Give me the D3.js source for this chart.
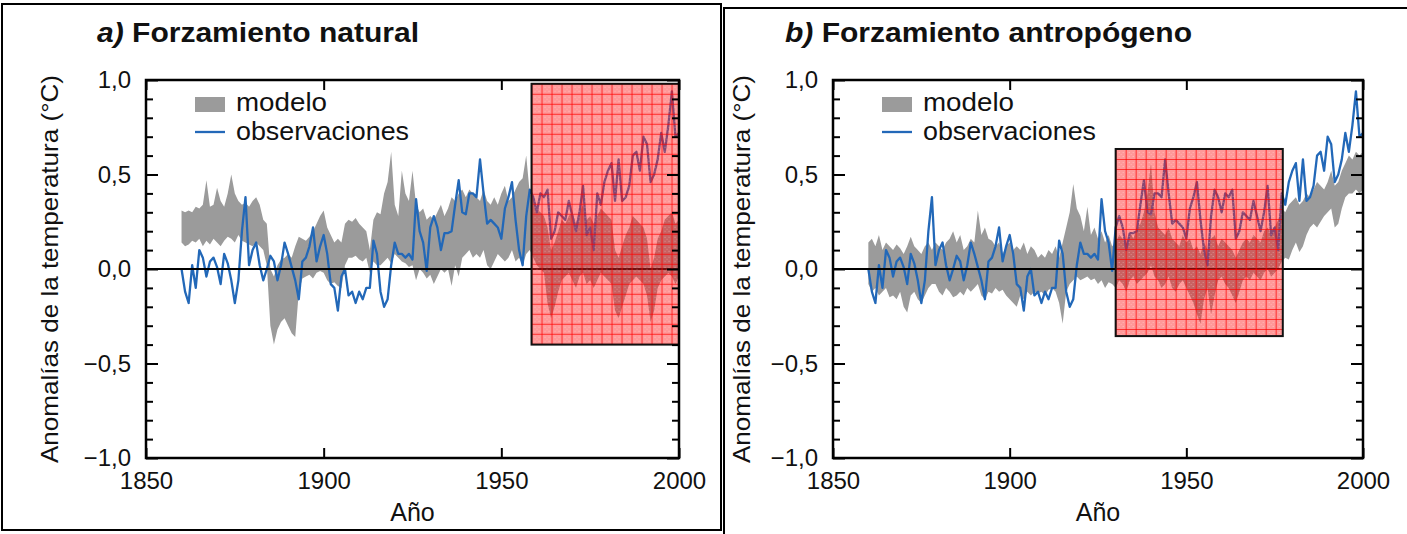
<!DOCTYPE html>
<html>
<head>
<meta charset="utf-8">
<script src="https://cdn.jsdelivr.net/npm/d3@7/dist/d3.min.js"></script>
<style>
  html, body { margin: 0; padding: 0; background: #fff; }
  svg { display: block; font-family: "Liberation Sans", Arial, Helvetica, sans-serif; }
</style>
</head>
<body>
<svg id="chart" width="1407" height="534"></svg>
<script>
// ---------------- DATA ----------------
const startYear = 1860;
const xTickValues = [1850, 1900, 1950, 2000];
const yTickValues = [-1.0, -0.5, 0.0, 0.5, 1.0];
const legendLabels = ["modelo", "observaciones"];
const panelTitles = [["a)", " Forzamiento natural"], ["b)", " Forzamiento antropógeno"]];
const yAxisTitle = "Anomalías de la temperatura (°C)";
const xAxisTitle = "Año";

// Observed global mean temperature anomaly, 1860-2000 (°C)
const observations = [
  0.00,-0.12,-0.18, 0.02,-0.10, 0.10, 0.06,-0.04, 0.04, 0.06,   // 1860-1869
  0.01,-0.08, 0.08, 0.03,-0.06,-0.18,-0.06, 0.20, 0.38, 0.02,   // 1870-1879
  0.10, 0.14, 0.02,-0.06, 0.00, 0.07, 0.04,-0.06, 0.02, 0.14,   // 1880-1889
  0.08, 0.01,-0.06,-0.16, 0.04, 0.06, 0.12, 0.22, 0.04, 0.12,   // 1890-1899
  0.18, 0.08,-0.08,-0.10,-0.22,-0.04, 0.00,-0.14,-0.12,-0.18,   // 1900-1909
 -0.12,-0.16,-0.10,-0.10, 0.15, 0.08,-0.12,-0.20,-0.16, 0.02,   // 1910-1919
  0.14, 0.08, 0.08, 0.06, 0.08, 0.05, 0.37, 0.20, 0.14,-0.01,   // 1920-1929
  0.22, 0.28, 0.22, 0.10, 0.19, 0.19, 0.20, 0.34, 0.47, 0.30,   // 1930-1939
  0.29, 0.40, 0.40, 0.38, 0.58, 0.40, 0.24, 0.26, 0.24, 0.22,   // 1940-1949
  0.16, 0.32, 0.38, 0.46, 0.26, 0.10, 0.02, 0.28, 0.42, 0.38,   // 1950-1959
  0.30, 0.40, 0.38, 0.42, 0.16, 0.20, 0.30, 0.28, 0.26, 0.36,   // 1960-1969
  0.28, 0.20, 0.30, 0.44, 0.18, 0.22, 0.10, 0.40, 0.34, 0.46,   // 1970-1979
  0.52, 0.56, 0.36, 0.58, 0.36, 0.38, 0.44, 0.60, 0.62, 0.52,   // 1980-1989
  0.70, 0.66, 0.46, 0.50, 0.58, 0.72, 0.62, 0.76, 0.94, 0.70,   // 1990-1999
  0.72                                                          // 2000
];

// Model range, natural forcing (upper / lower), 1860-2000
const naturalUpper = [
  0.31, 0.30, 0.31, 0.30, 0.33, 0.32, 0.34, 0.47, 0.33, 0.34,
  0.43, 0.36, 0.33, 0.40, 0.50, 0.40, 0.36, 0.34, 0.35, 0.33,
  0.36, 0.38, 0.34, 0.26, 0.24, 0.00,-0.04, 0.02, 0.05, 0.06,
  0.08, 0.06, 0.12, 0.17, 0.16, 0.15, 0.17, 0.20, 0.24, 0.28,
  0.31, 0.22, 0.18, 0.14, 0.16, 0.14, 0.24, 0.26, 0.25, 0.27,
  0.24, 0.22, 0.20, 0.10, 0.26, 0.30, 0.29, 0.40, 0.46, 0.62,
  0.34, 0.28, 0.52, 0.40, 0.36, 0.52, 0.34, 0.30, 0.32, 0.26,
  0.28, 0.26, 0.30, 0.34, 0.28, 0.32, 0.38, 0.36, 0.40, 0.42,
  0.38, 0.42, 0.40, 0.38, 0.36, 0.42, 0.36, 0.34, 0.38, 0.34,
  0.40, 0.44, 0.36, 0.38, 0.42, 0.46, 0.48, 0.60, 0.40, 0.38,
  0.32, 0.30, 0.28, 0.22, 0.10, 0.14, 0.20, 0.26, 0.24, 0.28,
  0.30, 0.24, 0.30, 0.34, 0.26, 0.28, 0.24, 0.28, 0.32, 0.30,
  0.28, 0.26, 0.10, 0.06, 0.12, 0.18, 0.22, 0.28, 0.26, 0.24,
  0.22, 0.16, 0.00, 0.06, 0.16, 0.20, 0.26, 0.28, 0.30, 0.24,
  0.26
];
const naturalLower = [
  0.14, 0.12, 0.13, 0.15, 0.14, 0.16, 0.12, 0.15, 0.13, 0.16,
  0.14, 0.12, 0.15, 0.17, 0.16, 0.14, 0.18, 0.15, 0.14, 0.13,
  0.12, 0.14, 0.12, 0.10, 0.02,-0.30,-0.40,-0.32,-0.28,-0.26,
 -0.30,-0.34,-0.36,-0.12,-0.05,-0.04,-0.03,-0.05,-0.02,-0.01,
 -0.02,-0.06,-0.08,-0.07,-0.09,-0.10, 0.02, 0.06, 0.06, 0.07,
  0.05, 0.04, 0.06,-0.02, 0.04, 0.02, 0.02, 0.04, 0.06, 0.03,
  0.08, 0.06, 0.04, 0.03, 0.01, 0.02,-0.06, 0.00,-0.02,-0.05,
 -0.03,-0.08,-0.04, 0.00,-0.02, 0.00,-0.09, 0.02,-0.04, 0.06,
  0.08, 0.10, 0.06, 0.08, 0.06, 0.10, 0.02, 0.00, 0.04, 0.08,
  0.06, 0.04, 0.06, 0.10, 0.04, 0.06, 0.02, 0.08, 0.10, 0.06,
  0.02, 0.00,-0.02,-0.18,-0.26,-0.20,-0.12,-0.06,-0.04,-0.02,
 -0.06,-0.10,-0.04,-0.02,-0.08,-0.06,-0.10,-0.06,-0.02,-0.04,
 -0.06,-0.08,-0.22,-0.26,-0.20,-0.14,-0.08,-0.06,-0.04,-0.06,
 -0.08,-0.14,-0.28,-0.22,-0.10,-0.06,-0.04,-0.02,-0.04,-0.08,
 -0.04
];

// Model range, anthropogenic forcing (upper / lower), 1860-2000
const anthroUpper = [
  0.14, 0.16, 0.12, 0.18, 0.10, 0.14, 0.12, 0.10, 0.13, 0.11,
  0.08, 0.12, 0.17, 0.12, 0.10, 0.08, 0.12, 0.14, 0.10, 0.14,
  0.12, 0.10, 0.14, 0.16, 0.20, 0.14, 0.18, 0.10, 0.12, 0.16,
  0.14, 0.31, 0.18, 0.22, 0.16, 0.15, 0.12, 0.14, 0.08, 0.12,
  0.14, 0.10, 0.12, 0.10, 0.14, 0.08, 0.12, 0.10, 0.06, 0.08,
  0.06, 0.10, 0.08, 0.12, 0.06, 0.14, 0.22, 0.30, 0.45, 0.32,
  0.28, 0.20, 0.33, 0.18, 0.22, 0.16, 0.20, 0.14, 0.18, 0.12,
  0.14, 0.18, 0.16, 0.12, 0.20, 0.16, 0.22, 0.24, 0.30, 0.40,
  0.56, 0.30, 0.22, 0.20, 0.18, 0.22, 0.16, 0.14, 0.12, 0.18,
  0.14, 0.16, 0.10, 0.12, 0.08, 0.14, 0.10, 0.16, 0.18, 0.12,
  0.16, 0.14, 0.12, 0.10, 0.06, 0.10, 0.14, 0.16, 0.14, 0.18,
  0.16, 0.14, 0.20, 0.22, 0.18, 0.22, 0.26, 0.32, 0.30, 0.34,
  0.36, 0.38, 0.34, 0.36, 0.40, 0.38, 0.42, 0.46, 0.44, 0.42,
  0.46, 0.52, 0.44, 0.46, 0.52, 0.56, 0.60, 0.58, 0.62, 0.60,
  0.62
];
const anthroLower = [
 -0.08,-0.12,-0.10,-0.14,-0.12,-0.10,-0.15,-0.14,-0.16,-0.12,
 -0.20,-0.23,-0.14,-0.12,-0.16,-0.18,-0.14,-0.10,-0.08,-0.08,
 -0.12,-0.14,-0.10,-0.12,-0.15,-0.14,-0.12,-0.14,-0.10,-0.12,
 -0.10,-0.08,-0.14,-0.16,-0.12,-0.13,-0.10,-0.12,-0.11,-0.14,
 -0.16,-0.18,-0.20,-0.14,-0.16,-0.12,-0.14,-0.12,-0.13,-0.12,
 -0.14,-0.11,-0.10,-0.12,-0.18,-0.29,-0.12,-0.08,-0.06,-0.04,
 -0.06,-0.05,-0.04,-0.06,-0.05,-0.08,-0.06,-0.10,-0.07,-0.08,
 -0.10,-0.06,-0.08,-0.12,-0.06,-0.04,-0.08,-0.06,-0.04,-0.02,
  0.02,-0.04,-0.06,-0.10,-0.08,-0.04,-0.10,-0.12,-0.08,-0.06,
 -0.10,-0.14,-0.18,-0.24,-0.29,-0.16,-0.10,-0.24,-0.14,-0.06,
 -0.04,-0.08,-0.10,-0.14,-0.18,-0.12,-0.06,-0.04,-0.06,-0.02,
 -0.04,-0.06,-0.02, 0.00,-0.04,-0.02, 0.00, 0.04, 0.06, 0.05,
  0.10, 0.14, 0.09, 0.12, 0.18, 0.22, 0.24, 0.22, 0.25, 0.28,
  0.30, 0.32, 0.22, 0.24, 0.32, 0.38, 0.40, 0.40, 0.42, 0.40,
  0.42
];

// Highlighted periods (red boxes): [startYear, endYear, bottom, top]
const highlightA = [1958.5, 2000, -0.40, 0.98];
const highlightB = [1930, 1977.3, -0.355, 0.635];

// ---------------- DRAWING ----------------
const svg = d3.select("#chart");
const defs = svg.append("defs");

const GREY = "#9b9b9b";
const BLUE = "#2368b8";

defs.append("filter").attr("id", "soft")
  .attr("x", "-5%").attr("y", "-5%").attr("width", "110%").attr("height", "110%")
  .append("feGaussianBlur").attr("stdDeviation", 0.6);

// Outer frames
svg.append("rect").attr("x", 2).attr("y", 4).attr("width", 719).attr("height", 526)
  .attr("fill", "none").attr("stroke", "#000").attr("stroke-width", 2);
svg.append("path").attr("d", "M724,534V8H1407")
  .attr("fill", "none").attr("stroke", "#000").attr("stroke-width", 2);

const years = d3.range(startYear, 2001);

function drawPanel(cfg) {
  const x = d3.scaleLinear().domain([1850, 2000]).range([cfg.x0, cfg.x1]);
  const y = d3.scaleLinear().domain([-1, 1]).range([458, 80]);
  const g = svg.append("g");

  // title
  const t = g.append("text").attr("x", cfg.titleX).attr("y", 42)
    .attr("font-size", 27).attr("font-weight", "bold").attr("fill", "#111");
  t.append("tspan").attr("font-style", "italic").text(cfg.title[0]);
  t.append("tspan").text(cfg.title[1]);
  t.attr("textLength", cfg.titleW).attr("lengthAdjust", "spacingAndGlyphs");

  // model band
  const band = years.map((yr, i) => ({ yr, lo: cfg.lower[i], hi: cfg.upper[i] }));
  g.append("path").datum(band)
    .attr("d", d3.area().x(d => x(d.yr)).y0(d => y(d.lo)).y1(d => y(d.hi)))
    .attr("fill", GREY).attr("filter", "url(#soft)");

  // observations
  const obs = years.map((yr, i) => ({ yr, v: observations[i] }));
  g.append("path").datum(obs)
    .attr("d", d3.line().x(d => x(d.yr)).y(d => y(d.v)))
    .attr("fill", "none").attr("stroke", BLUE).attr("stroke-width", 2.3)
    .attr("stroke-linejoin", "round").attr("filter", "url(#soft)");

  // zero line
  g.append("line").attr("x1", x(1850)).attr("x2", x(2000))
    .attr("y1", y(0)).attr("y2", y(0)).attr("stroke", "#000").attr("stroke-width", 2);

  // red highlight box with grid pattern
  const h = cfg.highlight;
  const bx = x(h[0]), bxe = x(h[1]), by = y(h[3]), bye = y(h[2]);
  const pid = "pat" + cfg.id;
  const pat = defs.append("pattern").attr("id", pid).attr("patternUnits", "userSpaceOnUse")
    .attr("x", bx).attr("y", by).attr("width", 10).attr("height", 10);
  pat.append("rect").attr("width", 10).attr("height", 10).attr("fill", "rgba(255,30,30,0.46)");
  [[3,3,0.4],[7,7,0.4],[3,7,0.3],[7,3,0.3],[5,5,0.25]].forEach(p =>
    pat.append("rect").attr("x", p[0]).attr("y", p[1]).attr("width", 1).attr("height", 1)
      .attr("fill", `rgba(255,255,255,${p[2]})`));
  pat.append("path").attr("d", "M0.5,0V10M0,0.5H10").attr("stroke", "rgba(255,0,0,0.7)").attr("stroke-width", 1);
  g.append("rect").attr("x", bx).attr("y", by).attr("width", bxe - bx).attr("height", bye - by)
    .attr("fill", `url(#${pid})`).attr("stroke", "#111").attr("stroke-width", 2);

  // plot frame
  g.append("rect").attr("x", x(1850)).attr("y", y(1)).attr("width", x(2000) - x(1850)).attr("height", y(-1) - y(1))
    .attr("fill", "none").attr("stroke", "#000").attr("stroke-width", 2.5);

  const fmt = v => d3.format(".1f")(v).replace(".", ",");
  const minor = d3.range(-10, 11).map(k => k / 10).filter(v => Math.abs(v * 2 - Math.round(v * 2)) > 1e-6);

  // y axes (left with labels, right ticks only) - inward ticks
  const yl = g.append("g").attr("transform", `translate(${x(1850)},0)`);
  yl.call(d3.axisLeft(y).tickValues(minor).tickSize(-7).tickFormat(""));
  yl.append("g").call(d3.axisLeft(y).tickValues(yTickValues).tickSize(-12).tickPadding(15).tickFormat(fmt));
  const yr_ = g.append("g").attr("transform", `translate(${x(2000)},0)`);
  yr_.call(d3.axisRight(y).tickValues(minor).tickSize(-7).tickFormat(""));
  yr_.append("g").call(d3.axisRight(y).tickValues(yTickValues).tickSize(-12).tickFormat(""));

  // x axes (bottom with labels, top ticks only)
  const xb = g.append("g").attr("transform", `translate(0,${y(-1)})`);
  xb.call(d3.axisBottom(x).tickValues(xTickValues).tickSize(-10).tickPadding(14).tickFormat(d3.format("d")));
  const xt = g.append("g").attr("transform", `translate(0,${y(1)})`);
  xt.call(d3.axisTop(x).tickValues(xTickValues).tickSize(-10).tickFormat(""));

  g.selectAll(".domain").remove();
  g.selectAll(".tick line").attr("stroke", "#000").attr("stroke-width", 2);
  g.selectAll(".tick text").attr("font-size", 24).attr("fill", "#111")
    .attr("font-family", "'Liberation Sans', Arial, sans-serif");

  // axis titles
  g.append("text").attr("x", (x(1850) + x(2000)) / 2).attr("y", 521)
    .attr("text-anchor", "middle").attr("font-size", 25).attr("fill", "#111").text(xAxisTitle);
  g.append("text").attr("transform", `translate(${cfg.yLabelX},${y(0)}) rotate(-90)`)
    .attr("text-anchor", "middle").attr("font-size", 24).attr("fill", "#111")
    .attr("textLength", 388).attr("lengthAdjust", "spacingAndGlyphs").text(yAxisTitle);

  // legend
  const lx = x(1850) + 49;
  g.append("rect").attr("x", lx).attr("y", 97).attr("width", 30).attr("height", 15).attr("fill", GREY);
  g.append("text").attr("x", lx + 41).attr("y", 111).attr("font-size", 25).attr("fill", "#111")
    .attr("textLength", 91).attr("lengthAdjust", "spacingAndGlyphs").text(legendLabels[0]);
  g.append("line").attr("x1", lx).attr("x2", lx + 30).attr("y1", 132).attr("y2", 132)
    .attr("stroke", BLUE).attr("stroke-width", 2.3);
  g.append("text").attr("x", lx + 41).attr("y", 140).attr("font-size", 25).attr("fill", "#111")
    .attr("textLength", 173).attr("lengthAdjust", "spacingAndGlyphs").text(legendLabels[1]);
}

drawPanel({ id: "a", x0: 146, x1: 679, titleX: 97, titleW: 322, title: panelTitles[0],
  upper: naturalUpper, lower: naturalLower, highlight: highlightA, yLabelX: 58 });
drawPanel({ id: "b", x0: 833, x1: 1363, titleX: 785, titleW: 407, title: panelTitles[1],
  upper: anthroUpper, lower: anthroLower, highlight: highlightB, yLabelX: 750 });
</script>
</body>
</html>
